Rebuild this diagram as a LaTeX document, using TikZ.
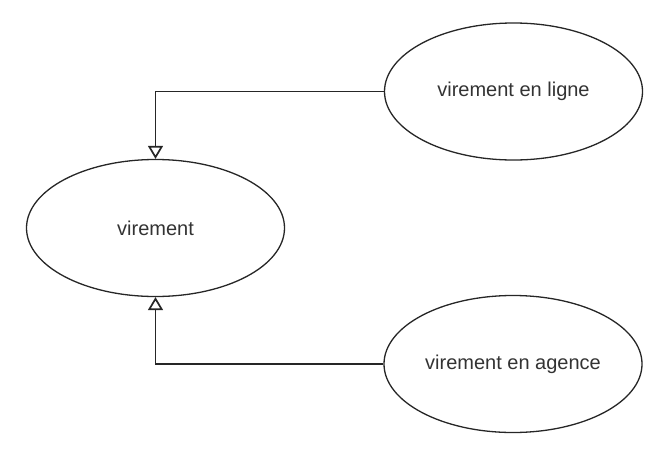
\documentclass[tikz,border=0pt]{standalone}
\usepackage{fontspec}
\setmainfont{Liberation Sans}
\usetikzlibrary{shapes.geometric,arrows.meta}

\begin{document}
\begin{tikzpicture}[x=1pt,y=-1pt,
usecase/.style={ellipse, draw=black!85, line width=1.3pt, minimum width=258pt, minimum height=137pt, inner sep=0pt, text=black!80, font=\fontsize{20}{24}\selectfont},
inherit/.style={draw=black!85, line width=1.7pt, -{Triangle[open, width=15pt, length=13pt]}},
]
\useasboundingbox (0,0) rectangle (650,466);

\node[usecase] (virement) at (155.5,228) {virement};
\node[usecase] (ligne) at (513.5,91.5) {virement en ligne};
\node[usecase] (agence) at (513,364) {virement en agence};

\path[inherit]
(ligne.west) -| (virement.north);
\path[inherit]
(agence.west) -| (virement.south);
\end{tikzpicture}
\end{document}
